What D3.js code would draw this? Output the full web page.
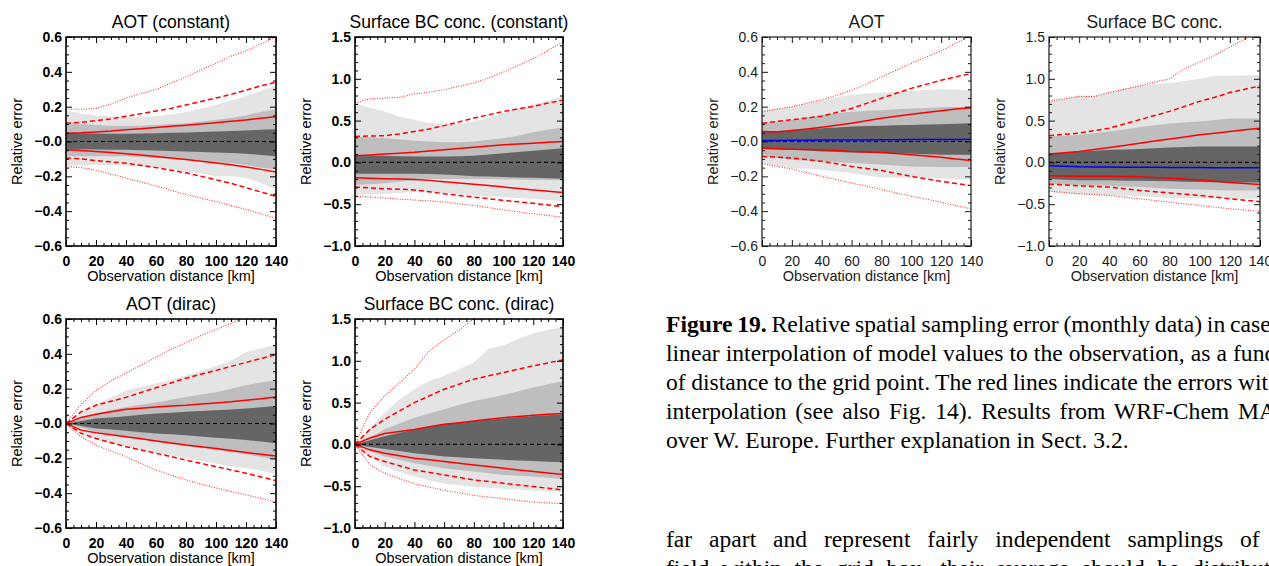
<!DOCTYPE html>
<html>
<head>
  <meta charset="utf-8">
  <script src="https://cdn.jsdelivr.net/npm/d3@7"></script>
  <style>
    body { margin: 0; background: #fff; }
  </style>
</head>
<body>
<script>
  // distance axis (km), one value every 10 km
  const distances = [0, 10, 20, 30, 40, 50, 60, 70, 80, 90, 100, 110, 120, 130, 140]
  const xTicks = [0, 20, 40, 60, 80, 100, 120, 140]
  const xTickLabels = ['0', '20', '40', '60', '80', '100', '120', '140']
  const aotTicks = [0.6, 0.4, 0.2, 0, -0.2, -0.4, -0.6]
  const aotTickLabels = ['0.6', '0.4', '0.2', '\u22120.0', '\u22120.2', '\u22120.4', '\u22120.6']
  const bcTicks = [1.5, 1.0, 0.5, 0, -0.5, -1.0]
  const bcTickLabels = ['1.5', '1.0', '0.5', '0.0', '\u22120.5', '\u22121.0']

  // AOT (constant)
  const aotC_lightHi = [0.18, 0.16, 0.15, 0.145, 0.14, 0.14, 0.145, 0.155, 0.17, 0.19, 0.21, 0.235, 0.26, 0.29, 0.32]
  const aotC_lightLo = [-0.14, -0.135, -0.135, -0.135, -0.14, -0.145, -0.15, -0.16, -0.175, -0.185, -0.2, -0.2, -0.21, -0.24, -0.275]
  const aotC_midHi = [0.11, 0.1, 0.095, 0.09, 0.09, 0.09, 0.095, 0.1, 0.105, 0.115, 0.125, 0.135, 0.15, 0.17, 0.185]
  const aotC_midLo = [-0.085, -0.085, -0.085, -0.085, -0.085, -0.09, -0.095, -0.1, -0.105, -0.11, -0.12, -0.125, -0.135, -0.15, -0.16]
  const aotC_darkHi = [0.05, 0.048, 0.046, 0.045, 0.045, 0.046, 0.048, 0.05, 0.052, 0.055, 0.057, 0.06, 0.063, 0.067, 0.07]
  const aotC_darkLo = [-0.045, -0.045, -0.046, -0.047, -0.048, -0.05, -0.052, -0.055, -0.057, -0.06, -0.063, -0.066, -0.07, -0.077, -0.085]
  const aotC_solidHi = [0.048, 0.05, 0.055, 0.06, 0.067, 0.073, 0.08, 0.087, 0.094, 0.101, 0.108, 0.116, 0.124, 0.133, 0.142]
  const aotC_solidLo = [-0.048, -0.052, -0.057, -0.063, -0.07, -0.078, -0.086, -0.095, -0.104, -0.113, -0.123, -0.134, -0.146, -0.16, -0.175]
  const aotC_dashHi = [0.105, 0.11, 0.12, 0.13, 0.145, 0.16, 0.175, 0.19, 0.21, 0.23, 0.25, 0.27, 0.295, 0.32, 0.34]
  const aotC_dashLo = [-0.095, -0.1, -0.11, -0.117, -0.125, -0.137, -0.15, -0.165, -0.18, -0.2, -0.22, -0.24, -0.265, -0.29, -0.315]
  const aotC_dotHi = [0.185, 0.185, 0.19, 0.215, 0.25, 0.275, 0.3, 0.335, 0.37, 0.41, 0.45, 0.49, 0.52, 0.56, 0.6]
  const aotC_dotLo = [-0.143, -0.15, -0.165, -0.187, -0.21, -0.232, -0.255, -0.28, -0.305, -0.325, -0.345, -0.368, -0.39, -0.415, -0.44]

  // Surface BC (constant)
  const bcC_lightHi = [0.71, 0.65, 0.61, 0.55, 0.51, 0.47, 0.46, 0.46, 0.49, 0.53, 0.59, 0.64, 0.69, 0.74, 0.79]
  const bcC_lightLo = [-0.39, -0.38, -0.375, -0.365, -0.355, -0.36, -0.365, -0.38, -0.395, -0.405, -0.415, -0.425, -0.435, -0.45, -0.465]
  const bcC_midHi = [0.31, 0.3, 0.29, 0.275, 0.26, 0.25, 0.24, 0.24, 0.25, 0.27, 0.29, 0.32, 0.36, 0.39, 0.42]
  const bcC_midLo = [-0.27, -0.26, -0.25, -0.23, -0.215, -0.2, -0.2, -0.2, -0.2, -0.2, -0.205, -0.205, -0.21, -0.21, -0.215]
  const bcC_darkHi = [0.09, 0.085, 0.08, 0.075, 0.07, 0.07, 0.07, 0.075, 0.08, 0.095, 0.11, 0.125, 0.14, 0.155, 0.17]
  const bcC_darkLo = [-0.135, -0.135, -0.135, -0.135, -0.135, -0.14, -0.145, -0.155, -0.165, -0.17, -0.175, -0.18, -0.185, -0.19, -0.195]
  const bcC_solidHi = [0.08, 0.09, 0.1, 0.11, 0.12, 0.135, 0.15, 0.165, 0.18, 0.195, 0.21, 0.22, 0.23, 0.24, 0.25]
  const bcC_solidLo = [-0.185, -0.19, -0.195, -0.2, -0.205, -0.215, -0.23, -0.245, -0.26, -0.277, -0.295, -0.312, -0.33, -0.345, -0.36]
  const bcC_dashHi = [0.31, 0.315, 0.32, 0.34, 0.37, 0.4, 0.44, 0.485, 0.53, 0.57, 0.61, 0.64, 0.67, 0.71, 0.745]
  const bcC_dashLo = [-0.295, -0.305, -0.315, -0.32, -0.33, -0.35, -0.375, -0.395, -0.415, -0.435, -0.455, -0.472, -0.49, -0.51, -0.53]
  const bcC_dotHi = [0.71, 0.76, 0.77, 0.78, 0.82, 0.84, 0.87, 0.91, 0.95, 1.01, 1.08, 1.16, 1.24, 1.34, 1.44]
  const bcC_dotLo = [-0.405, -0.415, -0.425, -0.44, -0.45, -0.46, -0.475, -0.495, -0.515, -0.54, -0.57, -0.592, -0.615, -0.635, -0.655]

  // AOT (dirac)
  const aotD_lightHi = [0, 0.06, 0.11, 0.15, 0.19, 0.21, 0.23, 0.25, 0.275, 0.3, 0.33, 0.36, 0.41, 0.43, 0.457]
  const aotD_lightLo = [0, -0.05, -0.095, -0.115, -0.133, -0.152, -0.17, -0.185, -0.2, -0.215, -0.23, -0.245, -0.257, -0.272, -0.29]
  const aotD_midHi = [0, 0.03, 0.057, 0.078, 0.095, 0.108, 0.12, 0.136, 0.152, 0.166, 0.18, 0.2, 0.22, 0.235, 0.25]
  const aotD_midLo = [0, -0.025, -0.048, -0.062, -0.076, -0.09, -0.105, -0.118, -0.13, -0.141, -0.152, -0.165, -0.177, -0.193, -0.21]
  const aotD_darkHi = [0, 0.015, 0.028, 0.035, 0.042, 0.05, 0.057, 0.062, 0.067, 0.072, 0.076, 0.081, 0.086, 0.093, 0.1]
  const aotD_darkLo = [0, -0.015, -0.028, -0.035, -0.042, -0.05, -0.057, -0.062, -0.067, -0.075, -0.082, -0.088, -0.095, -0.104, -0.114]
  const aotD_solidHi = [0, 0.035, 0.053, 0.068, 0.082, 0.088, 0.095, 0.1, 0.105, 0.112, 0.118, 0.125, 0.133, 0.142, 0.152]
  const aotD_solidLo = [0, -0.038, -0.053, -0.065, -0.076, -0.088, -0.1, -0.112, -0.124, -0.133, -0.143, -0.155, -0.166, -0.177, -0.187]
  const aotD_dashHi = [0, 0.067, 0.105, 0.128, 0.15, 0.178, 0.205, 0.233, 0.26, 0.283, 0.305, 0.328, 0.35, 0.373, 0.395]
  const aotD_dashLo = [0, -0.057, -0.086, -0.11, -0.133, -0.152, -0.171, -0.19, -0.21, -0.229, -0.248, -0.267, -0.286, -0.307, -0.328]
  const aotD_dotHi = [0, 0.11, 0.19, 0.245, 0.29, 0.335, 0.38, 0.425, 0.465, 0.505, 0.54, 0.575, 0.61, 0.64, 0.67]
  const aotD_dotLo = [0, -0.076, -0.124, -0.158, -0.19, -0.23, -0.267, -0.297, -0.324, -0.348, -0.37, -0.39, -0.41, -0.43, -0.448]

  // Surface BC (dirac)
  const bcD_lightHi = [0, 0.2, 0.38, 0.54, 0.66, 0.76, 0.82, 0.9, 0.98, 1.145, 1.185, 1.265, 1.33, 1.37, 1.4]
  const bcD_lightLo = [0, -0.15, -0.265, -0.33, -0.385, -0.43, -0.47, -0.49, -0.51, -0.52, -0.53, -0.54, -0.55, -0.56, -0.57]
  const bcD_midHi = [0, 0.08, 0.18, 0.25, 0.32, 0.37, 0.42, 0.47, 0.52, 0.555, 0.59, 0.635, 0.68, 0.72, 0.755]
  const bcD_midLo = [0, -0.08, -0.145, -0.185, -0.225, -0.255, -0.285, -0.305, -0.325, -0.345, -0.365, -0.375, -0.385, -0.4, -0.415]
  const bcD_darkHi = [0, 0.05, 0.097, 0.14, 0.177, 0.21, 0.24, 0.26, 0.28, 0.295, 0.31, 0.325, 0.34, 0.35, 0.36]
  const bcD_darkLo = [0, -0.03, -0.056, -0.08, -0.105, -0.125, -0.145, -0.155, -0.165, -0.175, -0.185, -0.193, -0.2, -0.207, -0.215]
  const bcD_solidHi = [0, 0.077, 0.13, 0.155, 0.177, 0.21, 0.24, 0.26, 0.28, 0.3, 0.32, 0.335, 0.35, 0.36, 0.37]
  const bcD_solidLo = [0, -0.065, -0.105, -0.135, -0.165, -0.185, -0.205, -0.225, -0.245, -0.265, -0.285, -0.305, -0.325, -0.343, -0.36]
  const bcD_dashHi = [0, 0.18, 0.3, 0.4, 0.5, 0.58, 0.66, 0.72, 0.78, 0.82, 0.86, 0.9, 0.94, 0.975, 1.01]
  const bcD_dashLo = [0, -0.145, -0.205, -0.255, -0.305, -0.335, -0.365, -0.395, -0.425, -0.445, -0.465, -0.485, -0.505, -0.525, -0.545]
  const bcD_dotHi = [0, 0.38, 0.58, 0.74, 0.9, 1.12, 1.25, 1.37, 1.5, 1.62, 1.72, 1.82, 1.9, 1.98, 2.05]
  const bcD_dotLo = [0, -0.245, -0.345, -0.41, -0.47, -0.51, -0.55, -0.58, -0.61, -0.63, -0.65, -0.67, -0.69, -0.7, -0.71]

  // AOT (linear interpolation)
  const aotL_lightHi = [0.18, 0.19, 0.2, 0.22, 0.238, 0.253, 0.267, 0.275, 0.28, 0.285, 0.29, 0.295, 0.3, 0.298, 0.295]
  const aotL_lightLo = [-0.124, -0.14, -0.152, -0.157, -0.162, -0.172, -0.181, -0.195, -0.206, -0.208, -0.21, -0.21, -0.21, -0.215, -0.22]
  const aotL_midHi = [0.105, 0.115, 0.124, 0.138, 0.152, 0.162, 0.171, 0.176, 0.18, 0.185, 0.19, 0.193, 0.196, 0.198, 0.2]
  const aotL_midLo = [-0.086, -0.095, -0.105, -0.11, -0.114, -0.119, -0.124, -0.128, -0.133, -0.138, -0.143, -0.145, -0.147, -0.147, -0.147]
  const aotL_darkHi = [0.057, 0.06, 0.063, 0.07, 0.076, 0.081, 0.086, 0.089, 0.091, 0.093, 0.095, 0.097, 0.099, 0.102, 0.105]
  const aotL_darkLo = [-0.044, -0.046, -0.048, -0.052, -0.057, -0.06, -0.063, -0.065, -0.067, -0.068, -0.07, -0.073, -0.076, -0.076, -0.076]
  const aotL_solidHi = [0.057, 0.055, 0.063, 0.072, 0.082, 0.093, 0.105, 0.119, 0.133, 0.145, 0.156, 0.167, 0.177, 0.186, 0.194]
  const aotL_solidLo = [-0.038, -0.041, -0.044, -0.046, -0.048, -0.052, -0.057, -0.06, -0.063, -0.069, -0.076, -0.083, -0.09, -0.1, -0.109]
  const aotL_dashHi = [0.105, 0.115, 0.125, 0.135, 0.145, 0.167, 0.19, 0.219, 0.248, 0.277, 0.305, 0.328, 0.352, 0.371, 0.39]
  const aotL_dashLo = [-0.086, -0.09, -0.095, -0.104, -0.114, -0.128, -0.143, -0.155, -0.166, -0.183, -0.2, -0.215, -0.229, -0.241, -0.253]
  const aotL_dotHi = [0.17, 0.185, 0.2, 0.22, 0.24, 0.265, 0.295, 0.33, 0.37, 0.41, 0.45, 0.485, 0.52, 0.565, 0.61]
  const aotL_dotLo = [-0.128, -0.143, -0.158, -0.179, -0.2, -0.219, -0.238, -0.257, -0.276, -0.295, -0.314, -0.331, -0.349, -0.368, -0.387]
  const aotL_mean = [0.006, 0.006, 0.007, 0.007, 0.008, 0.008, 0.009, 0.009, 0.01, 0.01, 0.011, 0.011, 0.012, 0.012, 0.013]

  // Surface BC (linear interpolation)
  const bcL_lightHi = [0.73, 0.76, 0.79, 0.79, 0.835, 0.88, 0.92, 0.935, 0.95, 0.975, 1.0, 1.035, 1.035, 1.04, 1.045]
  const bcL_lightLo = [-0.355, -0.37, -0.38, -0.39, -0.395, -0.4, -0.405, -0.415, -0.425, -0.428, -0.43, -0.433, -0.435, -0.435, -0.435]
  const bcL_midHi = [0.31, 0.32, 0.33, 0.35, 0.37, 0.395, 0.42, 0.443, 0.465, 0.478, 0.49, 0.508, 0.525, 0.525, 0.525]
  const bcL_midLo = [-0.255, -0.265, -0.275, -0.278, -0.28, -0.288, -0.295, -0.305, -0.315, -0.32, -0.325, -0.33, -0.335, -0.335, -0.335]
  const bcL_darkHi = [0.1, 0.115, 0.13, 0.14, 0.15, 0.155, 0.16, 0.168, 0.177, 0.183, 0.19, 0.19, 0.19, 0.19, 0.19]
  const bcL_darkLo = [-0.2, -0.207, -0.215, -0.215, -0.215, -0.218, -0.22, -0.223, -0.225, -0.23, -0.235, -0.238, -0.24, -0.24, -0.24]
  const bcL_solidHi = [0.1, 0.115, 0.13, 0.153, 0.177, 0.203, 0.23, 0.255, 0.28, 0.305, 0.33, 0.35, 0.37, 0.39, 0.41]
  const bcL_solidLo = [-0.16, -0.163, -0.165, -0.165, -0.165, -0.169, -0.173, -0.181, -0.19, -0.2, -0.21, -0.225, -0.24, -0.252, -0.265]
  const bcL_dashHi = [0.32, 0.335, 0.35, 0.38, 0.41, 0.46, 0.51, 0.56, 0.61, 0.67, 0.73, 0.78, 0.835, 0.875, 0.915]
  const bcL_dashLo = [-0.26, -0.27, -0.28, -0.288, -0.295, -0.315, -0.335, -0.35, -0.365, -0.38, -0.395, -0.415, -0.435, -0.452, -0.47]
  const bcL_dotHi = [0.73, 0.76, 0.79, 0.79, 0.835, 0.875, 0.915, 0.96, 1.0, 1.12, 1.2, 1.28, 1.38, 1.48, 1.58]
  const bcL_dotLo = [-0.345, -0.36, -0.375, -0.385, -0.395, -0.415, -0.435, -0.455, -0.475, -0.495, -0.515, -0.535, -0.555, -0.57, -0.585]
  const bcL_mean = [-0.04, -0.046, -0.052, -0.054, -0.056, -0.057, -0.058, -0.059, -0.06, -0.061, -0.062, -0.063, -0.064, -0.065, -0.065]

  const W = 1269, H = 566
  const sans = "'Liberation Sans', Arial, Helvetica, sans-serif"
  const serif = "'Liberation Serif', 'Times New Roman', Times, serif"

  const svg = d3.select('body').append('svg')
    .attr('width', W).attr('height', H)
    .style('display', 'block')
  svg.append('rect').attr('width', W).attr('height', H).attr('fill', '#fff')

  const panels = [
    { id: 'p1', left: 66, right: 276, top: 37, bottom: 246, title: 'AOT (constant)', kind: 'aot', heavy: true,
      s: [aotC_lightLo, aotC_lightHi, aotC_midLo, aotC_midHi, aotC_darkLo, aotC_darkHi, aotC_solidLo, aotC_solidHi, aotC_dashLo, aotC_dashHi, aotC_dotLo, aotC_dotHi] },
    { id: 'p2', left: 355, right: 563, top: 37, bottom: 246, title: 'Surface BC conc. (constant)', kind: 'bc', heavy: true,
      s: [bcC_lightLo, bcC_lightHi, bcC_midLo, bcC_midHi, bcC_darkLo, bcC_darkHi, bcC_solidLo, bcC_solidHi, bcC_dashLo, bcC_dashHi, bcC_dotLo, bcC_dotHi] },
    { id: 'p3', left: 66, right: 276, top: 319, bottom: 528, title: 'AOT (dirac)', kind: 'aot', heavy: true,
      s: [aotD_lightLo, aotD_lightHi, aotD_midLo, aotD_midHi, aotD_darkLo, aotD_darkHi, aotD_solidLo, aotD_solidHi, aotD_dashLo, aotD_dashHi, aotD_dotLo, aotD_dotHi] },
    { id: 'p4', left: 355, right: 563, top: 319, bottom: 528, title: 'Surface BC conc. (dirac)', kind: 'bc', heavy: true,
      s: [bcD_lightLo, bcD_lightHi, bcD_midLo, bcD_midHi, bcD_darkLo, bcD_darkHi, bcD_solidLo, bcD_solidHi, bcD_dashLo, bcD_dashHi, bcD_dotLo, bcD_dotHi] },
    { id: 'p5', left: 762, right: 971, top: 37, bottom: 246, title: 'AOT', kind: 'aot', heavy: false, mean: aotL_mean,
      s: [aotL_lightLo, aotL_lightHi, aotL_midLo, aotL_midHi, aotL_darkLo, aotL_darkHi, aotL_solidLo, aotL_solidHi, aotL_dashLo, aotL_dashHi, aotL_dotLo, aotL_dotHi] },
    { id: 'p6', left: 1049, right: 1260, top: 37, bottom: 246, title: 'Surface BC conc.', kind: 'bc', heavy: false, mean: bcL_mean,
      s: [bcL_lightLo, bcL_lightHi, bcL_midLo, bcL_midHi, bcL_darkLo, bcL_darkHi, bcL_solidLo, bcL_solidHi, bcL_dashLo, bcL_dashHi, bcL_dotLo, bcL_dotHi] }
  ]

  panels.forEach(drawPanel)

  function drawPanel(p) {
    const ticks = p.kind == 'aot' ? aotTicks : bcTicks
    const labels = p.kind == 'aot' ? aotTickLabels : bcTickLabels
    const yDomain = p.kind == 'aot' ? [-0.6, 0.6] : [-1.0, 1.5]
    const yMinorStep = p.kind == 'aot' ? 0.05 : 0.1
    const ink = p.heavy ? '#000' : '#1a1a1a'

    let xScale = d3.scaleLinear().domain([0, 140]).range([p.left, p.right])
    let yScale = d3.scaleLinear().domain(yDomain).range([p.bottom, p.top])

    let g = svg.append('g')
    g.append('clipPath').attr('id', 'clip-' + p.id)
      .append('rect')
      .attr('x', p.left).attr('y', p.top)
      .attr('width', p.right - p.left).attr('height', p.bottom - p.top)
    let plot = g.append('g').attr('clip-path', 'url(#clip-' + p.id + ')')

    let band = (lo, hi) => d3.area()
      .x((d, i) => xScale(distances[i]))
      .y0((d, i) => yScale(lo[i]))
      .y1((d, i) => yScale(hi[i]))(distances)
    let line = arr => d3.line()
      .x((d, i) => xScale(distances[i]))
      .y(d => yScale(d))(arr)

    const s = p.s
    plot.append('path').attr('d', band(s[0], s[1])).attr('fill', '#e4e4e4')
    plot.append('path').attr('d', band(s[2], s[3])).attr('fill', '#bebebe')
    plot.append('path').attr('d', band(s[4], s[5])).attr('fill', '#656565')

    // zero line
    plot.append('line')
      .attr('x1', p.left).attr('x2', p.right)
      .attr('y1', yScale(0)).attr('y2', yScale(0))
      .attr('stroke', '#000').attr('stroke-width', 1.2)
      .attr('stroke-dasharray', '4,3')

    // red lines: solid, dashed, dotted
    const styles = [
      { dash: null, w: 1.5, c: '#ff0000', o: 1 },
      { dash: '5,3', w: 1.5, c: '#ff0000', o: 1 },
      { dash: '1,1.5', w: 1.1, c: '#ff2020', o: 0.9 }
    ]
    styles.forEach((st, k) => {
      [s[6 + 2 * k], s[7 + 2 * k]].forEach(arr => {
        plot.append('path').attr('d', line(arr))
          .attr('fill', 'none').attr('stroke', st.c)
          .attr('stroke-width', st.w).attr('stroke-opacity', st.o)
          .attr('stroke-dasharray', st.dash)
      })
    })
    if (p.mean) {
      plot.append('path').attr('d', line(p.mean))
        .attr('fill', 'none').attr('stroke', '#0000ff').attr('stroke-width', 1.5)
    }

    // axes with inward ticks
    const xMinor = d3.range(0, 141, 5).filter(v => v % 20 != 0)
    const yMinor = d3.range(Math.round(yDomain[0] / yMinorStep), Math.round(yDomain[1] / yMinorStep) + 1)
      .map(k => +(k * yMinorStep).toFixed(3))
      .filter(v => !ticks.some(t => Math.abs(t - v) < 1e-6))

    let xAxis = d3.axisBottom(xScale).tickValues(xTicks).tickSize(-6).tickPadding(10)
      .tickFormat((d, i) => xTickLabels[i])
    let yAxis = d3.axisLeft(yScale).tickValues(ticks).tickSize(-6).tickPadding(4)
      .tickFormat((d, i) => labels[i])

    let addAxis = (axis, tx, ty) => {
      let a = g.append('g').attr('transform', 'translate(' + tx + ',' + ty + ')').call(axis)
      a.select('.domain').remove()
      a.selectAll('line').attr('stroke', ink).attr('stroke-width', 1)
      a.selectAll('text').attr('fill', ink)
        .style('font-family', sans).style('font-size', '14px')
        .style('font-weight', p.heavy ? 'bold' : 'normal')
      return a
    }
    addAxis(xAxis, 0, p.bottom)
    addAxis(d3.axisBottom(xScale).tickValues(xMinor).tickSize(-3).tickFormat(''), 0, p.bottom)
    addAxis(d3.axisTop(xScale).tickValues(xTicks).tickSize(-6).tickFormat(''), 0, p.top)
    addAxis(d3.axisTop(xScale).tickValues(xMinor).tickSize(-3).tickFormat(''), 0, p.top)
    addAxis(yAxis, p.left, 0)
    addAxis(d3.axisLeft(yScale).tickValues(yMinor).tickSize(-3).tickFormat(''), p.left, 0)
    addAxis(d3.axisRight(yScale).tickValues(ticks).tickSize(-6).tickFormat(''), p.right, 0)
    addAxis(d3.axisRight(yScale).tickValues(yMinor).tickSize(-3).tickFormat(''), p.right, 0)

    g.append('rect')
      .attr('x', p.left).attr('y', p.top)
      .attr('width', p.right - p.left).attr('height', p.bottom - p.top)
      .attr('fill', 'none').attr('stroke', ink).attr('stroke-width', p.heavy ? 1.6 : 1.2)

    // titles
    const cx = (p.left + p.right) / 2
    g.append('text').attr('x', cx).attr('y', p.top - 9)
      .attr('text-anchor', 'middle').attr('fill', ink)
      .style('font-family', sans).style('font-size', '17.5px')
      .text(p.title)
    g.append('text').attr('x', cx).attr('y', p.bottom + 35)
      .attr('text-anchor', 'middle').attr('fill', ink)
      .style('font-family', sans).style('font-size', '14.5px')
      .text('Observation distance [km]')
    g.append('text')
      .attr('transform', 'translate(' + (p.left - 44) + ',' + ((p.top + p.bottom) / 2) + ') rotate(-90)')
      .attr('text-anchor', 'middle').attr('fill', ink)
      .style('font-family', sans).style('font-size', '14.5px')
      .text('Relative error')
  }

  // caption and body text of the page (justified lines run past the right edge)
  const captionLines = [
    { y: 332, parts: [['Figure 19.', true], [' Relative spatial sampling error (monthly data) in case of', false]], target: ['case', 1230] },
    { y: 361, parts: [['linear interpolation of model values to the observation, as a function', false]], target: ['function', 1233] },
    { y: 390, parts: [['of distance to the grid point. The red lines indicate the errors without', false]], target: ['without', 1238] },
    { y: 419, parts: [['interpolation (see also Fig. 14). Results from WRF-Chem MACC', false]], target: ['MACC', 1238] },
    { y: 448, parts: [['over W. Europe. Further explanation in Sect. 3.2.', false]], target: null },
    { y: 547, parts: [['far apart and represent fairly independent samplings of the', false]], target: ['of', 1240] },
    { y: 576, parts: [['field within the grid box, their average should be distributed', false]], target: ['distributed', 1192] }
  ]
  const textSize = 23.6
  const x0 = 666

  function addLine(parts, y, spacing) {
    let t = svg.append('text')
      .attr('x', x0).attr('y', y)
      .attr('fill', '#000')
      .style('font-family', serif).style('font-size', textSize + 'px')
      .style('white-space', 'pre')
      .attr('word-spacing', spacing)
    parts.forEach(pt => {
      t.append('tspan').attr('font-weight', pt[1] ? 'bold' : 'normal').text(pt[0])
    })
    return t
  }

  captionLines.forEach(l => {
    let spacing = 0
    if (l.target) {
      // spread the spaces so the chosen word starts where the page has it
      const full = l.parts.map(pt => pt[0]).join('')
      const idx = full.indexOf(' ' + l.target[0]) + 1
      let tmp = addLine(l.parts, l.y, 0)
      const natural = tmp.node().getStartPositionOfChar(idx).x
      tmp.remove()
      const nSpaces = (full.slice(0, idx).match(/ /g) || []).length
      spacing = (l.target[1] - natural) / nSpaces
    }
    addLine(l.parts, l.y, spacing)
  })
</script>
</body>
</html>
